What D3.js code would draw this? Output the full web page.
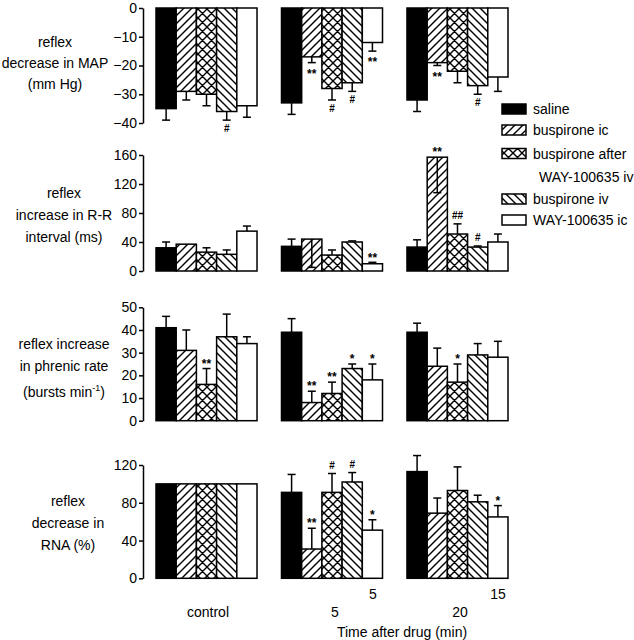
<!DOCTYPE html>
<html><head><meta charset="utf-8">
<script src="https://cdn.jsdelivr.net/npm/d3@7"></script>
<style>body{margin:0;background:#fff} text{font-family:"Liberation Sans",Arial,sans-serif;fill:#000}</style>
</head><body>
<svg id="c" width="634" height="640"></svg>
<script>
const groups = ["control", "5", "20"];
const series = ["saline", "buspirone ic", "buspirone after WAY-100635 iv", "buspirone iv", "WAY-100635 ic"];

// Panel 1: reflex decrease in MAP (mm Hg)
const mapMean = [[-35, -29, -30, -36, -34], [-33, -17, -28, -26, -12], [-32, -19, -22, -27, -24]];
const mapErr  = [[-39, -32, -34, -39, -38], [-37, -19, -32, -29, -15], [-36, -20, -26, -30, -29]];
const mapSig  = [["", "", "", "#", ""], ["", "**", "#", "#", "**"], ["", "**", "", "#", ""]];
const mapTicks = [0, -10, -20, -30, -40];

// Panel 2: reflex increase in R-R interval (ms)
const rrMean = [[32, 37, 26, 23, 55], [34, 44, 22, 40, 10], [33, 157, 51, 33, 40]];
const rrErr  = [[40, 37, 32, 29, 62], [44, 5, 29, 41.5, 12], [43, 108, 65, 34.5, 51]];
const rrSig  = [["", "", "", "", ""], ["", "", "", "", "**"], ["", "**", "##", "#", ""]];
const rrTicks = [0, 40, 80, 120, 160];

// Panel 3: reflex increase in phrenic rate (bursts min-1)
const phrMean = [[41, 31, 16, 37, 34], [39, 8, 12, 23, 18], [39, 24, 17, 29, 28]];
const phrErr  = [[46, 40, 23, 47, 37], [45, 13, 17, 25, 25], [43, 32, 25, 34, 35]];
const phrSig  = [["", "", "**", "", ""], ["", "**", "**", "*", "*"], ["", "", "*", "", ""]];
const phrTicks = [0, 10, 20, 30, 40, 50];

// Panel 4: reflex decrease in RNA (%)
const rnaMean = [[100, 100, 100, 100, 100], [91, 31, 91, 102, 51], [113, 69, 93, 81, 65]];
const rnaErr  = [[null, null, null, null, null], [110, 53, 111, 112, 62], [130, 85, 118, 88, 77]];
const rnaSig  = [["", "", "", "", ""], ["", "**", "#", "#", "*"], ["", "", "", "", "*"]];
const rnaTicks = [0, 40, 80, 120];

const groupLabels = [
  {t: "control", x: 208, y: 617},
  {t: "5", x: 335, y: 617},
  {t: "5", x: 373, y: 599},
  {t: "20", x: 460, y: 617},
  {t: "15", x: 498, y: 599}
];

const svg = d3.select("#c");
const defs = svg.append("defs");
function pat(id, size, d) {
  defs.append("pattern").attr("id", id).attr("patternUnits", "userSpaceOnUse")
    .attr("width", size).attr("height", size)
    .call(p => {
      p.append("rect").attr("width", size).attr("height", size).attr("fill", "white");
      p.append("path").attr("d", d).attr("stroke", "black").attr("stroke-width", 1.4).attr("fill", "none");
    });
}
pat("hatchF", 8, "M-1,1 L1,-1 M0,8 L8,0 M7,9 L9,7");
pat("hatchB", 8, "M-1,7 L1,9 M0,0 L8,8 M7,-1 L9,1");
pat("hatchX", 9, "M-1,1 L1,-1 M0,9 L9,0 M8,10 L10,8 M-1,8 L1,10 M0,0 L9,9 M8,-1 L10,1");
const fills = ["black", "url(#hatchF)", "url(#hatchX)", "url(#hatchB)", "white"];

const xG = d3.scaleBand().domain(groups).range([156, 508]).paddingInner(0.195).paddingOuter(0);
const xS = d3.scaleBand().domain(series).range([0, xG.bandwidth()]).padding(0);
const axisX = 143;

const panels = [
  {mean: mapMean, err: mapErr, sig: mapSig, ticks: mapTicks, dom: [0, -40], rng: [8, 123], below: true,
   label: ["reflex", "decrease in MAP", "(mm Hg)"], lx: 55, ly: [42, 63, 84]},
  {mean: rrMean, err: rrErr, sig: rrSig, ticks: rrTicks, dom: [0, 160], rng: [271, 155], below: false,
   label: ["reflex", "increase in R-R", "interval (ms)"], lx: 64, ly: [193, 215, 237]},
  {mean: phrMean, err: phrErr, sig: phrSig, ticks: phrTicks, dom: [0, 50], rng: [420.7, 307.3], below: false,
   label: ["reflex increase", "in phrenic rate", null], lx: 64, ly: [344, 366, 392]},
  {mean: rnaMean, err: rnaErr, sig: rnaSig, ticks: rnaTicks, dom: [0, 120], rng: [578.3, 465], below: false,
   label: ["reflex", "decrease in", "RNA (%)"], lx: 68, ly: [501, 523, 545]}
];

panels.forEach(p => {
  const y = d3.scaleLinear().domain(p.dom).range(p.rng);
  const g = svg.append("g");
  groups.forEach((grp, gi) => {
    series.forEach((s, si) => {
      const v = p.mean[gi][si];
      const x0 = xG(grp) + xS(s);
      const w = xS.bandwidth();
      const yv = y(v), y0 = y(0);
      g.append("rect").attr("x", x0).attr("y", Math.min(yv, y0)).attr("width", w)
        .attr("height", Math.abs(yv - y0)).attr("fill", fills[si])
        .attr("stroke", "black").attr("stroke-width", 1.5);
      const e = p.err[gi][si];
      const cx = x0 + w / 2;
      if (e !== null && e !== v) {
        g.append("line").attr("x1", cx).attr("x2", cx).attr("y1", yv).attr("y2", y(e))
          .attr("stroke", "black").attr("stroke-width", 1.5);
        g.append("line").attr("x1", cx - 4).attr("x2", cx + 4).attr("y1", y(e)).attr("y2", y(e))
          .attr("stroke", "black").attr("stroke-width", 1.5);
      }
      const sg = p.sig[gi][si];
      if (sg) {
        const hash = sg.includes("#");
        let c;
        if (p.below) {
          const ext = Math.max(yv, e === null ? yv : y(e));
          c = ext + 8;
        } else {
          const ext = Math.min(yv, e === null ? yv : y(e));
          c = ext - 8;
        }
        g.append("text").attr("x", cx).attr("y", c + (hash ? 3.5 : 7.2))
          .attr("text-anchor", "middle").attr("font-size", hash ? 10 : 12)
          .attr("font-weight", "bold").text(sg);
      }
    });
  });
  const ax = g.append("g").attr("transform", `translate(${axisX},0)`)
    .call(d3.axisLeft(y).tickValues(p.ticks).tickSize(4).tickSizeOuter(0).tickPadding(2).tickFormat(d3.format("d")));
  ax.selectAll("path, line").attr("stroke", "black").attr("stroke-width", 1.5);
  ax.selectAll("text").attr("font-size", 14).attr("font-family", "Liberation Sans, Arial, sans-serif").attr("fill", "black");
  p.label.forEach((t, i) => {
    const tx = g.append("text").attr("x", p.lx).attr("y", p.ly[i] + 5).attr("text-anchor", "middle").attr("font-size", 14);
    if (t === null) {
      tx.text("(bursts min");
      tx.append("tspan").attr("font-size", 9).attr("dy", -6).text("-1");
      tx.append("tspan").attr("dy", 6).text(")");
    } else tx.text(t);
  });
});

groupLabels.forEach(d => {
  svg.append("text").attr("x", d.x).attr("y", d.y).attr("text-anchor", "middle").attr("font-size", 14).text(d.t);
});
svg.append("text").attr("x", 402).attr("y", 637).attr("text-anchor", "middle").attr("font-size", 14).text("Time after drug (min)");

const legRows = [
  {s: 0, t: "saline", y: 109},
  {s: 1, t: "buspirone ic", y: 130},
  {s: 2, t: "buspirone after", y: 153.5},
  {s: -1, t: "WAY-100635 iv", y: 177},
  {s: 3, t: "buspirone iv", y: 199},
  {s: 4, t: "WAY-100635 ic", y: 220}
];
legRows.forEach(r => {
  if (r.s >= 0) {
    svg.append("rect").attr("x", 502).attr("y", r.y - 5).attr("width", 24).attr("height", 10)
      .attr("fill", fills[r.s]).attr("stroke", "black").attr("stroke-width", 1.5);
  }
  svg.append("text").attr("x", r.s >= 0 ? 533 : 539).attr("y", r.y + 5).attr("font-size", 14).text(r.t);
});
</script>
</body></html>
